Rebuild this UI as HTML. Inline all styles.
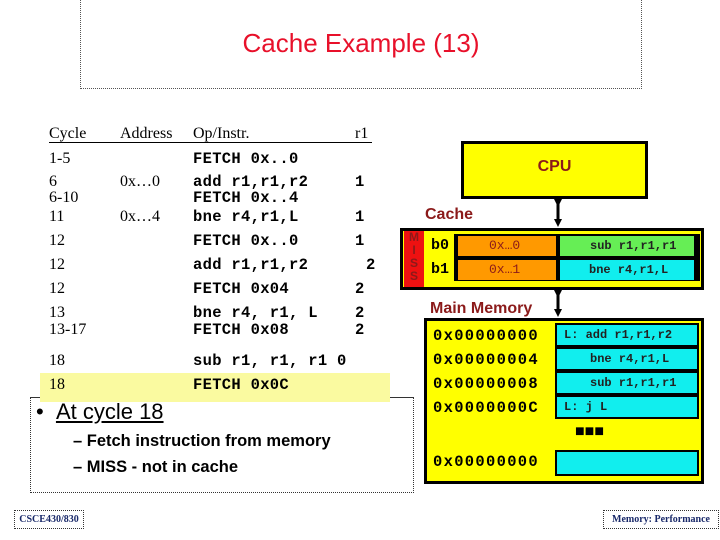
<!DOCTYPE html>
<html><head><meta charset="utf-8"><style>
body{margin:0;width:720px;height:540px;background:#fff;position:relative;overflow:hidden;font-family:"Liberation Sans",sans-serif}
.a{position:absolute;white-space:nowrap}
.s{font-family:"Liberation Serif",serif;font-size:16px}
.m{font-family:"Liberation Mono",monospace;font-weight:bold;font-size:15.5px;letter-spacing:0.3px}
.c{position:absolute;font-family:"Liberation Mono",monospace;font-weight:bold;font-size:12px;color:#222}
</style></head><body>
<div class="a" style="left:80px;top:0;width:560px;height:88px;border:1px dotted #555;border-top:none"></div>
<div class="a" style="left:80px;top:28px;width:562px;text-align:center;color:#e8102a;font-size:26px">Cache Example (13)</div>

<div class="a" style="left:30px;top:397px;width:382px;height:94px;border:1px dotted #333;border-top:1px solid #333"></div>
<div class="a" style="left:40px;top:373px;width:350px;height:29px;background:#fafaa0"></div>

<div class="a s" style="left:49px;top:125px">Cycle</div>
<div class="a s" style="left:120px;top:125px">Address</div>
<div class="a s" style="left:193px;top:125px">Op/Instr.</div>
<div class="a s" style="left:355px;top:125px">r1</div>
<div class="a" style="left:49px;top:142px;width:323px;height:1px;background:#000"></div>

<div class="a s" style="left:49px;top:150px">1-5</div><div class="a m" style="left:193px;top:150px">FETCH 0x..0</div>
<div class="a s" style="left:49px;top:173px">6</div><div class="a s" style="left:120px;top:173px">0x…0</div><div class="a m" style="left:193px;top:173px">add r1,r1,r2</div><div class="a m" style="left:355px;top:173px">1</div>
<div class="a s" style="left:49px;top:189px">6-10</div><div class="a m" style="left:193px;top:189px">FETCH 0x..4</div>
<div class="a s" style="left:49px;top:208px">11</div><div class="a s" style="left:120px;top:208px">0x…4</div><div class="a m" style="left:193px;top:208px">bne r4,r1,L</div><div class="a m" style="left:355px;top:208px">1</div>
<div class="a s" style="left:49px;top:232px">12</div><div class="a m" style="left:193px;top:232px">FETCH 0x..0</div><div class="a m" style="left:355px;top:232px">1</div>
<div class="a s" style="left:49px;top:256px">12</div><div class="a m" style="left:193px;top:256px">add r1,r1,r2</div><div class="a m" style="left:366px;top:256px">2</div>
<div class="a s" style="left:49px;top:280px">12</div><div class="a m" style="left:193px;top:280px">FETCH 0x04</div><div class="a m" style="left:355px;top:280px">2</div>
<div class="a s" style="left:49px;top:304px">13</div><div class="a m" style="left:193px;top:304px">bne r4, r1, L</div><div class="a m" style="left:355px;top:304px">2</div>
<div class="a s" style="left:49px;top:321px">13-17</div><div class="a m" style="left:193px;top:321px">FETCH 0x08</div><div class="a m" style="left:355px;top:321px">2</div>
<div class="a s" style="left:49px;top:352px">18</div><div class="a m" style="left:193px;top:352px">sub r1, r1, r1 0</div>
<div class="a s" style="left:49px;top:376px">18</div><div class="a m" style="left:193px;top:376px">FETCH 0x0C</div>

<div class="a" style="left:36px;top:399px;font-size:22px">•&nbsp;&nbsp;<u>At cycle 18</u></div>
<div class="a" style="left:73px;top:432px;font-size:16.5px;font-weight:bold">– Fetch instruction from memory</div>
<div class="a" style="left:73px;top:458px;font-size:16.5px;font-weight:bold">– MISS - not in cache</div>

<div class="a" style="left:14px;top:510px;width:68px;height:17px;border:1px dotted #333;font-family:'Liberation Serif',serif;font-size:10px;font-weight:bold;color:#1a2a6a;text-align:center;line-height:17px">CSCE430/830</div>
<div class="a" style="left:603px;top:510px;width:114px;height:17px;border:1px dotted #333;font-family:'Liberation Serif',serif;font-size:10px;font-weight:bold;color:#1a2a6a;text-align:center;line-height:17px">Memory: Performance</div>

<div class="a" style="left:461px;top:141px;width:181px;height:52px;background:#ffff00;border:3px solid #000"></div>
<div class="a" style="left:461px;top:158px;width:187px;text-align:center;font-weight:bold;font-size:16px;color:#8b1a1a">CPU</div>
<svg class="a" style="left:0;top:0" width="720" height="540">
<defs><marker id="h" markerUnits="userSpaceOnUse" markerWidth="8" markerHeight="8" refX="4" refY="4" orient="auto"><path d="M0,0L8,4L0,8z" fill="#000"/></marker></defs>
<line x1="558" y1="203" x2="558" y2="223" stroke="#000" stroke-width="3" marker-start="url(#h)" marker-end="url(#h)"/>
<line x1="558" y1="294" x2="558" y2="313" stroke="#000" stroke-width="3" marker-start="url(#h)" marker-end="url(#h)"/>
</svg>
<div class="a" style="left:425px;top:206px;font-weight:bold;font-size:16px;color:#8b1a1a">Cache</div>
<div class="a" style="left:400px;top:228px;width:298px;height:56px;background:#ffff00;border:3px solid #000"></div>
<div class="a" style="left:404px;top:231px;width:20px;height:56px;background:#ee1111;color:#8b1a1a;font-weight:bold;font-size:12px;text-align:center;line-height:13px">M<br>I<br>S<br>S</div>
<div class="a" style="left:454px;top:234px;width:244px;height:45px;background:#000;border:1px solid #000"></div>
<div class="a" style="left:458px;top:236px;width:98px;height:20px;background:#ff9900"></div>
<div class="a" style="left:458px;top:260px;width:98px;height:20px;background:#ff9900"></div>
<div class="a" style="left:560px;top:236px;width:134px;height:20px;background:#66ee55"></div>
<div class="a" style="left:560px;top:260px;width:134px;height:20px;background:#11eeee"></div>
<div class="c" style="left:489px;top:238px;color:#8b1a1a;font-size:13px;font-weight:normal">0x…0</div>
<div class="c" style="left:489px;top:262px;color:#8b1a1a;font-size:13px;font-weight:normal">0x…1</div>
<div class="c" style="left:590px;top:239px">sub r1,r1,r1</div>
<div class="c" style="left:589px;top:263px">bne r4,r1,L</div>
<div class="a" style="left:431px;top:237px;font-family:'Liberation Mono',monospace;font-weight:bold;font-size:15px">b0</div>
<div class="a" style="left:431px;top:261px;font-family:'Liberation Mono',monospace;font-weight:bold;font-size:15px">b1</div>

<div class="a" style="left:430px;top:300px;font-weight:bold;font-size:16px;color:#8b1a1a">Main Memory</div>
<div class="a" style="left:424px;top:318px;width:274px;height:160px;background:#ffff00;border:3px solid #000"></div>
<div class="a" style="left:555px;top:323px;width:140px;height:20px;background:#11eeee;border:2px solid #000"></div>
<div class="a" style="left:555px;top:347px;width:140px;height:20px;background:#11eeee;border:2px solid #000"></div>
<div class="a" style="left:555px;top:371px;width:140px;height:20px;background:#11eeee;border:2px solid #000"></div>
<div class="a" style="left:555px;top:395px;width:140px;height:20px;background:#11eeee;border:2px solid #000"></div>
<div class="a" style="left:555px;top:450px;width:140px;height:22px;background:#11eeee;border:2px solid #000"></div>
<div class="c" style="left:564px;top:328px">L: add r1,r1,r2</div>
<div class="c" style="left:590px;top:352px">bne r4,r1,L</div>
<div class="c" style="left:590px;top:376px">sub r1,r1,r1</div>
<div class="c" style="left:564px;top:400px">L: j L</div>
<div class="a" style="left:575px;top:423px;font-weight:bold;font-size:16px">■■■</div>
<div class="a" style="left:433px;top:324px;font-family:'Liberation Mono',monospace;font-weight:bold;font-size:15.5px;line-height:24px;letter-spacing:1.3px">0x00000000<br>0x00000004<br>0x00000008<br>0x0000000C</div>
<div class="a" style="left:433px;top:450px;font-family:'Liberation Mono',monospace;font-weight:bold;font-size:15.5px;line-height:24px;letter-spacing:1.3px">0x00000000</div>
</body></html>
